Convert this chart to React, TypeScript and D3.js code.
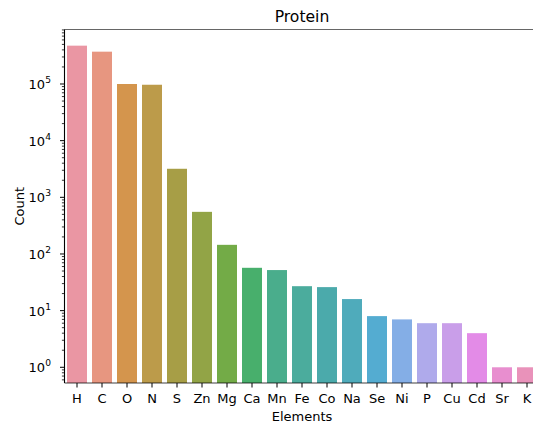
import React from "react";
import * as d3 from "d3";

const elements = ["H", "C", "O", "N", "S", "Zn", "Mg", "Ca", "Mn", "Fe", "Co", "Na", "Se", "Ni", "P", "Cu", "Cd", "Sr", "K"];
const counts = [475000, 372000, 100000, 97000, 3190, 554, 145, 57, 52, 27, 26, 16, 8, 7, 6, 6, 4, 1, 1];
const yTickExps = [0, 1, 2, 3, 4, 5];

// ---- HUSL (seaborn husl_palette) ----
const M = [
  [3.2406, -1.5372, -0.4986],
  [-0.9689, 1.8758, 0.0415],
  [0.0557, -0.204, 1.057],
];
const refU = 0.19784, refV = 0.46834, labE = 0.008856, labK = 903.3;
function maxChroma(L: number, H: number) {
  const hr = (H / 180) * Math.PI;
  const sinH = Math.sin(hr), cosH = Math.cos(hr);
  const sub1 = Math.pow(L + 16, 3) / 1560896.0;
  const sub2 = sub1 > labE ? sub1 : L / labK;
  let result = Infinity;
  for (const [m1, m2, m3] of M) {
    const top = (0.99915 * m1 + 1.05122 * m2 + 1.1446 * m3) * sub2;
    const rb = 0.8633 * m3 - 0.17266 * m2;
    const lb = 0.12949 * m3 - 0.38848 * m1;
    const bottom = (rb * sinH + lb * cosH) * sub2;
    for (const t of [0, 1]) {
      const C = (L * (top - 1.05122 * t)) / (bottom + 0.17266 * sinH * t);
      if (C > 0 && C < result) result = C;
    }
  }
  return result;
}
function fromLinear(c: number) {
  return c <= 0.0031308 ? 12.92 * c : 1.055 * Math.pow(c, 1 / 2.4) - 0.055;
}
function huslToRgb(H: number, S: number, L: number): [number, number, number] {
  const C = (maxChroma(L, H) / 100) * S;
  const hr = (H / 180) * Math.PI;
  const U = Math.cos(hr) * C, V = Math.sin(hr) * C;
  const varY = L > labK * labE ? Math.pow((L + 16) / 116, 3) : L / labK;
  const varU = U / (13 * L) + refU;
  const varV = V / (13 * L) + refV;
  const Y = varY;
  const X = 0 - (9 * Y * varU) / ((varU - 4) * varV - varU * varV);
  const Z = (9 * Y - 15 * varV * Y - varV * X) / (3 * varV);
  const rgb = M.map((r) => fromLinear(r[0] * X + r[1] * Y + r[2] * Z));
  return rgb.map((v) => Math.max(0, Math.min(1, v))) as [number, number, number];
}
function huslPalette(n: number, h = 0.01, s = 0.9, l = 0.7, desat = 0.75) {
  const out: string[] = [];
  for (let i = 0; i < n; i++) {
    const hue = (((i / n) + h) % 1) * 359;
    const [r, g, b] = huslToRgb(hue, s * 99, l * 99);
    const c = d3.hsl(d3.rgb(r * 255, g * 255, b * 255));
    c.s *= desat;
    out.push(c.formatHex());
  }
  return out;
}

const W = 533, H = 425;
const left = 64.5, right = 539.5, top = 29.5, bottom = 383;

export default function App() {
  const x = d3.scaleBand<string>().domain(elements).range([left, right]).paddingInner(0.2).paddingOuter(0.1);
  const y = d3.scaleLog().domain([0.528, 9.16e5]).range([bottom, top]);
  const colors = huslPalette(elements.length);
  const minor: number[] = [];
  for (let e = -1; e <= 5; e++) for (let k = 2; k <= 9; k++) {
    const v = k * Math.pow(10, e);
    if (v >= y.domain()[0] && v <= y.domain()[1]) minor.push(v);
  }
  const font = "DejaVu Sans, sans-serif";
  return (
    <svg width={W} height={H} style={{ position: "absolute", left: 0, top: 0 }} fontFamily={font}>
      <rect width={W} height={H} fill="white" />
      {elements.map((el, i) => (
        <rect key={el} x={x(el)} width={x.bandwidth()} y={y(counts[i])} height={bottom - y(counts[i])} fill={colors[i]} />
      ))}
      {/* spines */}
      <line x1={left} x2={right} y1={top} y2={top} stroke="#000" strokeWidth={1.1} strokeOpacity={0.6} />
      <line x1={left} x2={right} y1={bottom} y2={bottom} stroke="#000" strokeWidth={1.1} strokeOpacity={0.75} />
      <line x1={left} x2={left} y1={top} y2={bottom} stroke="#000" strokeWidth={1.1} />
      {/* y ticks */}
      {yTickExps.map((e) => {
        const yy = y(Math.pow(10, e));
        return (
          <g key={e}>
            <line x1={left - 4.5} x2={left} y1={yy} y2={yy} stroke="#000" strokeWidth={1} />
            <text x={left - 19.5} y={yy + 5} fontSize={13} textAnchor="end" fill="#000">10</text>
            <text x={left - 19.2} y={yy - 1} fontSize={9.1} textAnchor="start" fill="#000">{e}</text>
          </g>
        );
      })}
      {minor.map((v, i) => (
        <line key={i} x1={left - 2.6} x2={left} y1={y(v)} y2={y(v)} stroke="#000" strokeWidth={0.8} />
      ))}
      {/* x ticks */}
      {elements.map((el) => {
        const cx = (x(el) as number) + x.bandwidth() / 2;
        return (
          <g key={el}>
            <line x1={cx} x2={cx} y1={bottom} y2={bottom + 4.5} stroke="#000" strokeWidth={1} />
            <text x={cx} y={bottom + 20} fontSize={13} textAnchor="middle" fill="#000">{el}</text>
          </g>
        );
      })}
      <text x={(left + right) / 2} y={421} fontSize={13} textAnchor="middle" fill="#000">Elements</text>
      <text transform={`translate(24,${(top + bottom) / 2}) rotate(-90)`} fontSize={13} textAnchor="middle" fill="#000">Count</text>
      <text x={(left + right) / 2} y={21.5} fontSize={15.6} textAnchor="middle" fill="#000">Protein</text>
    </svg>
  );
}
